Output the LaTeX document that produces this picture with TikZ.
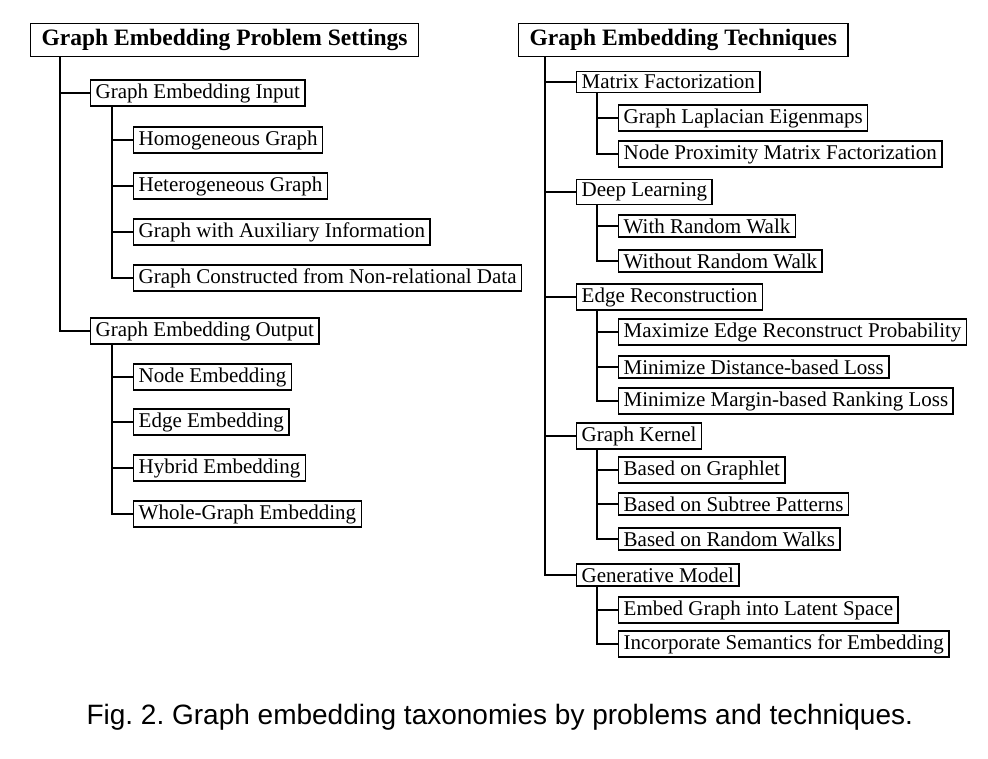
\documentclass[tikz,border=0pt]{standalone}
\usepackage{fontspec}
\setmainfont{Liberation Serif}
\newfontfamily\capfont{Liberation Sans}
\usetikzlibrary{positioning}
\begin{document}
\frenchspacing
\begin{tikzpicture}[x=1pt,y=-1pt,
    box/.style={draw,line width=1.4pt,anchor=west,inner xsep=5pt,inner ysep=3.5pt,
      font=\fontsize{21}{24}\selectfont},
    head/.style={box,inner xsep=11pt,inner ysep=5.5pt,font=\fontsize{23.5}{27}\selectfont\bfseries},
    link/.style={line width=1.4pt}]
  \useasboundingbox (0,0) rectangle (988,758);

  % left tree
  \node[head] (ps) at (30,40) {Graph Embedding Problem Settings};
  \node[box] (gin) at (90,93) {Graph Embedding Input};
  \node[box] (gout) at (90,331) {Graph Embedding Output};
  \foreach \n/\y/\t in {in1/140/Homogeneous Graph,in2/186/Heterogeneous Graph,
      in3/232/Graph with Auxiliary Information,in4/278/Graph Constructed from Non-relational Data}{
    \node[box] (\n) at (133,\y) {\t};
    \draw[link] ([xshift=22pt]gin.south west) |- (\n.west);
  }
  \foreach \n/\y/\t in {out1/377/Node Embedding,out2/422/Edge Embedding,
      out3/468/Hybrid Embedding,out4/514/Whole-Graph Embedding}{
    \node[box] (\n) at (133,\y) {\t};
    \draw[link] ([xshift=22pt]gout.south west) |- (\n.west);
  }
  \draw[link] ([xshift=30pt]ps.south west) |- (gin.west);
  \draw[link] ([xshift=30pt]ps.south west) |- (gout.west);

  % right tree
  \node[head] (gt) at (518,40) {Graph Embedding Techniques};
  \foreach \p/\y/\t in {mf/82/Matrix Factorization,dl/192/Deep Learning,
      er/297/Edge Reconstruction,gk/436/Graph Kernel,gm/575/Generative Model}{
    \node[box] (\p) at (576,\y) {\t};
    \draw[link] ([xshift=27pt]gt.south west) |- (\p.west);
  }
  \foreach \p/\n/\y/\t in {mf/mf1/118/Graph Laplacian Eigenmaps,
      mf/mf2/154/Node Proximity Matrix Factorization,
      dl/dl1/226/With Random Walk,dl/dl2/261/Without Random Walk,
      er/er1/332/Maximize Edge Reconstruct Probability,
      er/er2/367/Minimize Distance-based Loss,
      er/er3/401/Minimize Margin-based Ranking Loss,
      gk/gk1/470/Based on Graphlet,gk/gk2/504/Based on Subtree Patterns,
      gk/gk3/539/Based on Random Walks,
      gm/gm1/610/Embed Graph into Latent Space,
      gm/gm2/644/Incorporate Semantics for Embedding}{
    \node[box] (\n) at (618,\y) {\t};
    \draw[link] ([xshift=21pt]\p.south west) |- (\n.west);
  }

  % caption
  \node[anchor=west,font=\capfont\fontsize{28}{32}\selectfont] (cap) at (83,717)
    {Fig. 2. Graph embedding taxonomies by problems and techniques.};
\end{tikzpicture}
\end{document}
